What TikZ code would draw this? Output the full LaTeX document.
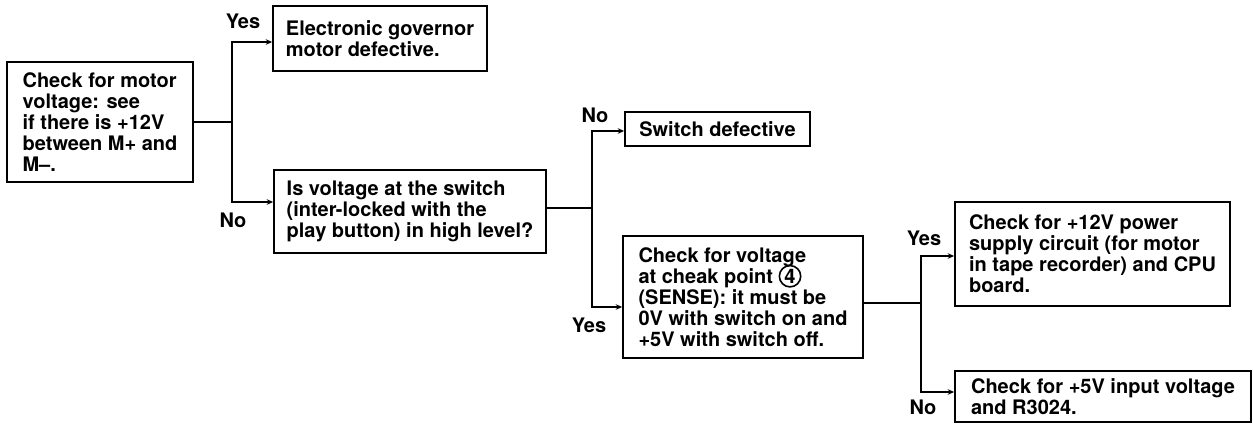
\documentclass[tikz,border=0pt]{standalone}
\usepackage{fontspec}
\setmainfont{TeX Gyre Heros}
\usetikzlibrary{arrows.meta}
\newcommand{\chkpt}[1]{\smash{\tikz[baseline=(ck.base)]\node[draw,circle,inner sep=.6pt,minimum size=0pt,line width=.8pt](ck){#1};}}

\begin{document}
\begin{tikzpicture}[x=.5pt,y=-.5pt,>={Stealth[length=3.2pt,width=2.8pt]},line width=.8pt,
 box/.style={draw,line width=.9pt,align=left,inner xsep=6pt,inner ysep=2pt,
  font=\bfseries\fontsize{10}{10.5}\selectfont},
 lbl/.style={font=\bfseries\fontsize{10}{12}\selectfont}]
 \useasboundingbox (0,0) rectangle (1253,424);
 % boxes
 \node[box,minimum width=93pt,minimum height=60pt] (motor) at (100,122)
  {Check for motor\\voltage: see\\if there is +12V\\between M+ and\\M--.};
 \node[box,minimum width=107pt,minimum height=32.5pt] (gov) at (380,38.5)
  {Electronic governor\\motor defective.};
 \node[box,minimum width=136pt,minimum height=41.5pt] (sw) at (410,211.5)
  {Is voltage at the switch\\(inter-locked with the\\play button) in high level?};
 \node[box,minimum width=92.5pt,minimum height=17pt] (swdef) at (717.5,129)
  {Switch defective};
 \node[box,minimum width=120pt,minimum height=61pt] (sense) at (743,297)
  {Check for voltage\\at cheak point \chkpt{4}\\(SENSE): it must be\\0V with switch on and\\+5V with switch off.};
 \node[box,minimum width=137.5pt,minimum height=52pt] (psu) at (1092.5,254)
  {Check for +12V power\\supply circuit (for motor\\in tape recorder) and CPU\\board.};
 \node[box,minimum width=148pt,minimum height=25.5pt] (inp) at (1103,396.5)
  {Check for +5V input voltage\\and R3024.};
 % branches
 \coordinate (j1) at (232,122);
 \coordinate (j2) at (592,208);
 \coordinate (j3) at (921,303);
 \draw (motor.east) -- (j1);
 \draw[->] (j1) |- ([yshift=-1.75pt]gov.west);
 \draw[->] (j1) |- ([yshift=4.75pt]sw.west);
 \draw (sw.east |- j2) -- (j2);
 \draw[->] (j2) |- ([yshift=-1pt]swdef.west);
 \draw[->] (j2) |- ([yshift=-5pt]sense.west);
 \draw (sense.east |- j3) -- (j3);
 \draw[->] (j3) |- ([yshift=-1pt]psu.west);
 \draw[->] (j3) |- ([yshift=2.25pt]inp.west);
 % answers
 \node[lbl] (y1) at (243,21) {Yes};
 \node[lbl] (n1) at (233,220) {No};
 \node[lbl] (n2) at (595,115) {No};
 \node[lbl] (y2) at (589,325) {Yes};
 \node[lbl] (y3) at (924,238) {Yes};
 \node[lbl] (n3) at (923,407) {No};
\end{tikzpicture}
\end{document}
